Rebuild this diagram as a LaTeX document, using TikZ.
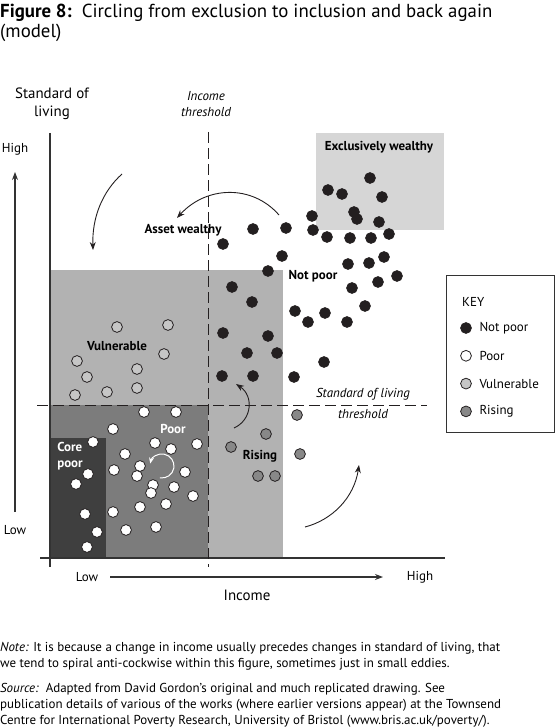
\documentclass[tikz,border=0pt]{standalone}
\usepackage{fontspec}
\setmainfont{PT Sans}
\usetikzlibrary{arrows.meta,positioning}
\definecolor{inkcol}{RGB}{35,31,32}
\definecolor{vulncol}{RGB}{178,178,178}
\definecolor{poorcol}{RGB}{124,124,124}
\definecolor{corecol}{RGB}{63,63,63}
\definecolor{wealthcol}{RGB}{214,214,214}
\definecolor{vulndotcol}{RGB}{198,198,198}
\definecolor{risecol}{RGB}{136,136,136}
\newcommand{\figtitle}{\fontsize{18.9}{21}\selectfont}
\newcommand{\figlarge}{\fontsize{15}{18}\selectfont}
\newcommand{\figsmall}{\fontsize{13}{16}\selectfont}
\tikzset{
  dot/.style={
    circle,
    draw=inkcol,
    line width=0.8bp,
    minimum size=10.8bp,
    inner sep=0pt
  },
  notpoor/.style={dot, fill=inkcol},
  poor/.style={dot, fill=white},
  vulnerable/.style={dot, fill=vulndotcol},
  rising/.style={dot, fill=risecol},
  zone/.style={font=\figsmall\bfseries, inner sep=0pt},
  thresh/.style={dash pattern=on 11bp off 5bp, line width=1bp, draw=inkcol},
  axis/.style={line width=1.1bp, draw=black!80},
  flow/.style={-{Stealth[length=8bp,width=6bp]}, line width=0.9bp, draw=inkcol},
  keytext/.style={font=\figsmall, inner sep=0pt, anchor=west}
}

\begin{document}
\begin{tikzpicture}[x=1bp, y=-1bp, node distance=6bp]
        \useasboundingbox (0,0) rectangle (555,728);
        \node[anchor=base west, inner sep=0pt, font=\figtitle, align=left] (title) at (0,38)
          {\textbf{Figure 8:}\ \ Circling from exclusion to inclusion and back again\\(model)};

        \fill[vulncol] (50,270) rectangle (283,558);
        \fill[poorcol] (50,405) rectangle (208,558);
        \fill[corecol] (50,438) rectangle (106,558);
        \fill[wealthcol] (316,133) rectangle (444,230);

        \draw[axis] (50,133) -- (50,567);
        \draw[axis] (40,558) -- (445,558);
        \draw[thresh] (208,132) -- (208,567);
        \draw[thresh] (37,405) -- (427,405);

        \node[font=\figlarge, align=center, inner sep=0pt] (ylab) at (52,104) {Standard of\\living};
        \node[font=\figsmall\itshape, align=center, inner sep=0pt] (ithr) at (206,104) {Income\\threshold};
        \node[font=\figsmall, inner sep=0pt] (yhigh) at (15,149) {High};
        \node[font=\figsmall, inner sep=0pt] (ylow) at (15,530) {Low};
        \coordinate (yfrom) at (15,512);
        \coordinate (yto) at (15,172);
        \draw[axis, -{Stealth[length=8bp,width=6bp]}] (yfrom) -- (yto);
        \node[font=\figsmall, inner sep=0pt] (xlow) at (87,577) {Low};
        \node[font=\figsmall, inner sep=0pt] (xhigh) at (420,577) {High};
        \node[font=\figlarge, inner sep=0pt] (xlab) at (247,595) {Income};
        \coordinate (xfrom) at (110,577);
        \coordinate (xto) at (383,577);
        \draw[axis, -{Stealth[length=8bp,width=6bp]}] (xfrom) -- (xto);

        \foreach \x/\y [count=\i] in {370/178, 328/190, 342/194, 382/197, 354/212, 357/219, 379/222, 312/216,
            253/229, 286/228, 313/230, 327/237, 350/238, 371/238, 389/234, 223/244, 282/256, 348/264,
            369/263, 384/257, 268/271, 397/276, 378/282, 352/288, 232/287, 252/302, 295/311, 308/322,
            325/313, 347/322, 365/306, 223/333, 268/336, 247/353, 277/353, 324/362, 222/376, 253/376, 294/377}
          \node[notpoor] (np\i) at (\x,\y) {};
        \foreach \x/\y [count=\i] in {117/327, 168/325, 164/354, 77/361, 137/369, 87/377, 137/388, 107/392, 75/395}
          \node[vulnerable] (vu\i) at (\x,\y) {};
        \foreach \x/\y [count=\i] in {144/412, 176/412, 113/429, 93/442, 155/443, 171/449, 197/444, 125/454,
            140/466, 114/470, 88/474, 137/476, 185/472, 76/484, 153/485, 174/487, 151/493, 193/496,
            166/504, 140/507, 113/512, 85/514, 126/530, 156/527, 97/532, 87/547}
          \node[poor] (po\i) at (\x,\y) {};
        \foreach \x/\y [count=\i] in {297/415, 266/434, 231/447, 300/454, 258/476, 275/476}
          \node[rising] (ri\i) at (\x,\y) {};

        \node[zone] (zwealth) at (379,147) {Exclusively wealthy};
        \node[zone] (zasset) at (183,230) {Asset wealthy};
        \node[zone] (znotpoor) at (313,276) {Not poor};
        \node[zone] (zvuln) at (117,346) {Vulnerable};
        \node[zone, text=white] (zpoor) at (173,429) {Poor};
        \node[zone, text=white, align=left] (zcore) at (70,456) {Core\\poor};
        \node[zone] (zrise) at (260,456) {Rising};
        \node[font=\figsmall\itshape, align=center, inner sep=0pt] (sthr) at (363,403)
          {Standard of living\\[5bp]threshold};

        \coordinate (swirl) at (162,466);
        \draw[line width=1bp, white, -{Stealth[length=6bp,width=5bp]}]
          (swirl) ++(100:12) arc[start angle=100, end angle=-168, radius=12];

        \coordinate (fa1) at (122,174);
        \coordinate (ta1) at (93,250);
        \draw[flow] (fa1) .. controls (102,192) and (92,218) .. (ta1);
        \coordinate (fa2) at (279,215);
        \coordinate (ta2) at (177,218);
        \draw[flow] (fa2) .. controls (252,184) and (206,186) .. (ta2);
        \coordinate (fa3) at (234,428);
        \coordinate (ta3) at (236,384);
        \draw[flow] (fa3) .. controls (252,420) and (254,396) .. (ta3);
        \coordinate (fa4) at (305,527);
        \coordinate (ta4) at (359,465);
        \draw[flow] (fa4) .. controls (332,520) and (354,498) .. (ta4);

        \node[draw=black!80, line width=1bp, minimum width=108bp, minimum height=157bp, inner sep=0pt] (keybox) at (500,353.5) {};
        \node[keytext] (keyhead) at (462,302) {KEY};
        \node[notpoor] (knp) at (466,328) {};
        \node[poor, below=16.2bp of knp] (kpo) {};
        \node[vulnerable, below=16.2bp of kpo] (kvu) {};
        \node[rising, below=16.2bp of kvu] (kri) {};
        \node[keytext, right=7.5bp of knp] (knptext) {Not poor};
        \node[keytext, right=7.5bp of kpo] (kpotext) {Poor};
        \node[keytext, right=7.5bp of kvu] (kvutext) {Vulnerable};
        \node[keytext, right=7.5bp of kri] (kritext) {Rising};

        \node[anchor=base west, inner sep=0pt, font=\figsmall, align=left] (note) at (0,667)
          {\textit{Note:} It is because a change in income usually precedes changes in standard of living, that\\
           we tend to spiral anti-cockwise within this figure, sometimes just in small eddies.};
        \node[anchor=base west, inner sep=0pt, font=\figsmall, align=left] (source) at (0,724)
          {\textit{Source:}\ \ Adapted from David Gordon’s original and much replicated drawing. See\\
           publication details of various of the works (where earlier versions appear) at the Townsend\\
           Centre for International Poverty Research, University of Bristol (www.bris.ac.uk/poverty/).};
      \end{tikzpicture}
\end{document}
